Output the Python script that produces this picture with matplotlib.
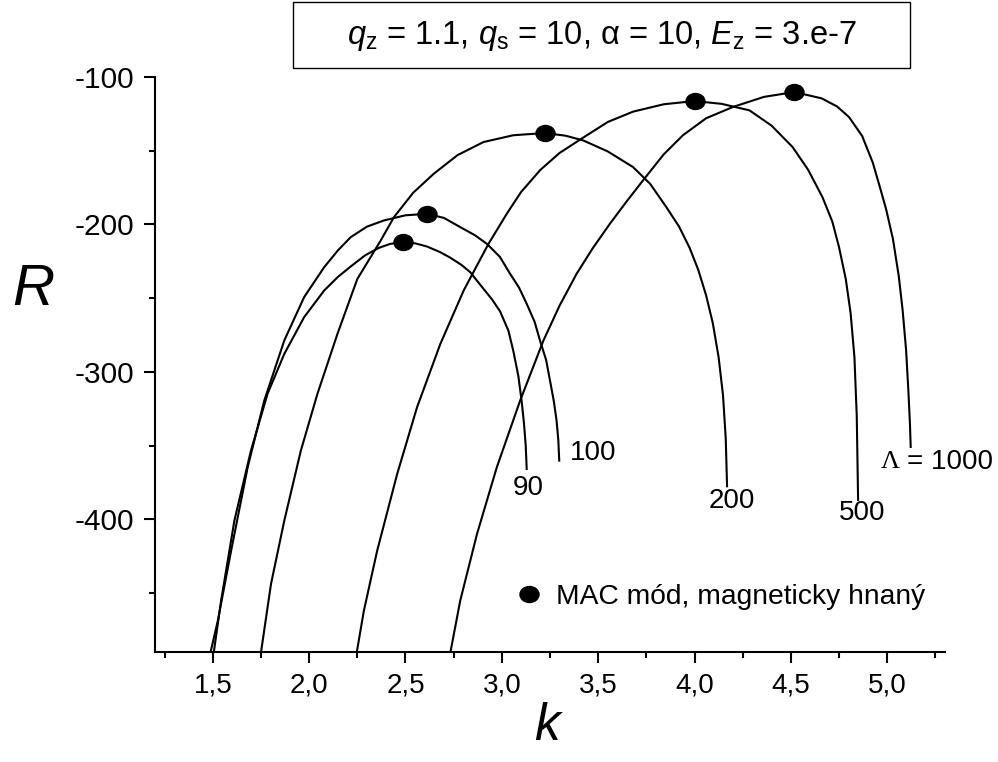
import matplotlib
matplotlib.use("Agg")
import matplotlib.pyplot as plt
from matplotlib.path import Path
from matplotlib.transforms import Affine2D
from matplotlib.patches import Rectangle
from matplotlib import font_manager
import numpy as np

# curves R(k) for the different Lambda values, read point by point
k_90 = [1.505, 1.543, 1.612, 1.698, 1.784, 1.871, 1.974, 2.078, 2.150, 2.216, 2.290, 2.360, 2.420, 2.486,
        2.550, 2.612, 2.680, 2.733, 2.790, 2.836, 2.905, 2.950, 2.991, 3.034, 3.060, 3.086, 3.103,
        3.115, 3.124, 3.129]
R_90 = [-490.3, -455.2, -400.9, -353.4, -314.9, -287.8, -262.9, -244.8, -235.5, -228.5, -221.0, -216.0, -213.2, -212.0,
        -212.8, -215.0, -218.8, -222.6, -227.4, -232.4, -243.7, -251.0, -259.0, -272.0, -286.0, -303.0, -320.0,
        -335.0, -350.0, -365.8]

k_100 = [1.488, 1.526, 1.595, 1.681, 1.767, 1.871, 1.974, 2.078, 2.150, 2.216, 2.300, 2.388, 2.500, 2.612,
         2.700, 2.784, 2.860, 2.922, 2.990, 3.043, 3.090, 3.129, 3.170, 3.198, 3.230, 3.250, 3.270,
         3.284, 3.293, 3.298]
R_100 = [-490.3, -468.8, -421.3, -364.7, -319.5, -278.7, -249.3, -229.0, -217.5, -208.6, -201.5, -197.3, -193.8, -192.8,
         -195.6, -201.8, -207.3, -213.1, -222.0, -233.5, -243.0, -253.8, -266.0, -278.7, -292.0, -305.9, -320.0,
         -333.0, -346.0, -360.2]

k_200 = [1.750, 1.802, 1.871, 1.957, 2.043, 2.147, 2.250, 2.371, 2.440, 2.540, 2.647, 2.770, 2.905, 3.060,
         3.224, 3.330, 3.422, 3.550, 3.681, 3.770, 3.854, 3.920, 3.975, 4.020, 4.060, 4.095, 4.125, 4.148,
         4.162, 4.169]
R_200 = [-490.3, -443.9, -400.9, -353.4, -314.9, -274.2, -237.0, -211.0, -195.1, -178.5, -165.6, -153.0, -144.1, -139.5,
         -138.0, -139.8, -143.0, -150.5, -161.1, -172.5, -188.3, -201.5, -216.0, -231.0, -248.0, -267.0, -290.0, -316.0,
         -345.0, -377.6]

k_500 = [2.247, 2.284, 2.353, 2.457, 2.560, 2.681, 2.802, 2.931, 3.026, 3.100, 3.200, 3.300, 3.414, 3.550,
         3.681, 3.840, 4.000, 4.140, 4.285, 4.400, 4.509, 4.590, 4.664, 4.715, 4.750, 4.785, 4.810, 4.830,
         4.842, 4.849]
R_500 = [-490.3, -462.0, -421.3, -369.2, -324.0, -281.0, -244.8, -213.1, -192.7, -178.0, -163.0, -151.5, -141.8, -130.5,
         -123.5, -118.5, -116.3, -118.2, -122.6, -133.0, -147.5, -163.0, -181.5, -198.0, -215.4, -237.0, -260.0, -290.0,
         -330.0, -386.8]

k_1000 = [2.733, 2.784, 2.871, 2.974, 3.095, 3.216, 3.300, 3.388, 3.470, 3.561, 3.650, 3.733, 3.840, 3.940,
          4.060, 4.198, 4.360, 4.518, 4.660, 4.740, 4.802, 4.870, 4.925, 4.965, 4.995, 5.030, 5.060, 5.080,
          5.098, 5.110, 5.118, 5.122]
R_1000 = [-490.3, -455.2, -410.0, -364.7, -319.5, -278.7, -255.0, -233.5, -216.5, -199.5, -184.0, -170.1, -152.5, -139.5,
          -128.0, -120.4, -113.5, -110.2, -114.5, -120.0, -127.2, -140.0, -158.0, -176.0, -190.0, -210.0, -235.0, -258.0,
          -285.0, -313.0, -335.0, -350.9]

# MAC mode maxima (one per curve)
k_mac = [2.486, 2.612, 3.224, 4.000, 4.518]
R_mac = [-212.0, -192.8, -138.0, -116.3, -110.2]

curve_labels = ["90", "100", "200", "500", "1000"]
x_ticks = [1.5, 2.0, 2.5, 3.0, 3.5, 4.0, 4.5, 5.0]
x_tick_labels = ["1,5", "2,0", "2,5", "3,0", "3,5", "4,0", "4,5", "5,0"]
y_ticks = [-100, -200, -300, -400]
y_tick_labels = ["-100", "-200", "-300", "-400"]


def pick_font(names):
    have = {f.name for f in font_manager.fontManager.ttflist}
    for n in names:
        if n in have:
            return n
    return None


sans = pick_font(["Liberation Sans", "Arial"]) or "DejaVu Sans"
serif = pick_font(["Liberation Serif", "DejaVu Serif"]) or sans
narrow = pick_font(["Liberation Sans Narrow", "Arial Narrow"])
has_narrow = narrow is not None
if not has_narrow:
    narrow = sans

plt.rcParams["font.family"] = sans
plt.rcParams["mathtext.fontset"] = "custom"
plt.rcParams["mathtext.rm"] = sans
plt.rcParams["mathtext.it"] = sans + ":italic"

fig = plt.figure(figsize=(9.98, 7.62), dpi=100)
ax = fig.add_axes([155 / 998, 1 - 652 / 762, 790 / 998, 575 / 762])

lw = 1.5
for k, R in [(k_90, R_90), (k_100, R_100), (k_200, R_200), (k_500, R_500), (k_1000, R_1000)]:
    ax.plot(k, R, color="black", lw=lw, solid_joinstyle="round")

ellipse = Path.unit_circle().transformed(Affine2D().scale(1.0, 0.84))
ax.plot(k_mac, R_mac, ls="none", marker=ellipse, ms=13.7, color="black",
        label="MAC m\u00f3d, magneticky hnan\u00fd", zorder=5)

ax.set_xlim(1.2, 5.3)
ax.set_ylim(-490, -100)

ax.spines["top"].set_visible(False)
ax.spines["right"].set_visible(False)
for s in ("left", "bottom"):
    ax.spines[s].set_linewidth(1.5)

ax.set_xticks(x_ticks)
ax.set_xticklabels(x_tick_labels, fontsize=22 if has_narrow else 20, fontfamily=narrow)
ax.set_xticks(np.arange(1.25, 5.3, 0.5), minor=True)
ax.set_yticks(y_ticks)
ax.set_yticklabels(y_tick_labels, fontsize=21.5)
ax.set_yticks([-150, -250, -350, -450], minor=True)
ax.tick_params(which="major", length=8, width=1.5, direction="out", pad=7)
ax.tick_params(which="minor", length=4.5, width=1.5, direction="out")

ax.set_xlabel("k", fontsize=37, fontstyle="italic", fontfamily=narrow, va="top")
ax.xaxis.set_label_coords((547 - 155) / 790, (652 - 702) / 575)
ax.set_ylabel("R", fontsize=42, fontstyle="italic", rotation=0, va="center", ha="center")
ax.yaxis.set_label_coords((33 - 155) / 790, (652 - 290) / 575)

# labels at the curve ends
ax.text(3.138, -378.8, curve_labels[0], fontsize=20, ha="center", va="center")
ax.text(3.354, -355.3, curve_labels[1], fontsize=20, ha="left", va="center")
ax.text(4.193, -387.4, curve_labels[2], fontsize=20, ha="center", va="center")
ax.text(4.871, -396.0, curve_labels[3], fontsize=20, ha="center", va="center")
lam = ax.text(4.966, -360.9, "\u039b", fontsize=19, ha="left", va="center", fontfamily=serif)
ax.annotate("= " + curve_labels[4], xy=(1, 0.5), xycoords=lam, xytext=(5, 0),
            textcoords="offset points", fontsize=20, ha="left", va="center")

ax.legend(loc="center left", bbox_to_anchor=(0.459, 0.0957), frameon=False, fontsize=20.3,
          handlelength=0.8, handletextpad=0.55, borderpad=0, borderaxespad=0)

# parameter box above the plot
fig.patches.append(Rectangle((293 / 998, 1 - 68 / 762), 617 / 998, 66 / 762,
                             transform=fig.transFigure, fill=False, ec="black", lw=1.0))
fig.text(601.5 / 998, 1 - 36 / 762,
         "$q_\\mathrm{z}$ = 1.1, $q_\\mathrm{s}$ = 10, \u03b1 = 10, $E_\\mathrm{z}$ = 3.e-7",
         fontsize=23.5, ha="center", va="center")

fig.savefig("out.png", dpi=100)
